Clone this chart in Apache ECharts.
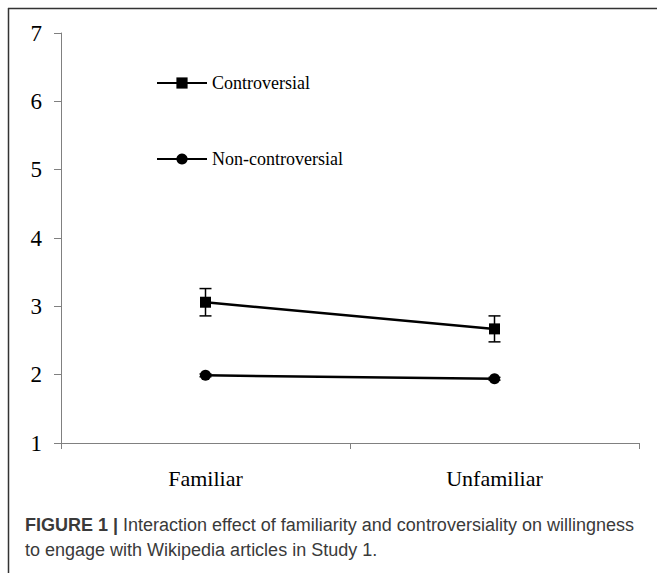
<!DOCTYPE html>
<html>
<head>
<meta charset="utf-8">
<script src="https://cdn.jsdelivr.net/npm/echarts@6/dist/echarts.min.js"></script>
<style>
html,body{margin:0;padding:0;background:#fff;}
#chart{width:657px;height:573px;}
</style>
</head>
<body>
<div id="chart"></div>
<script>
var categories = ['Familiar', 'Unfamiliar'];
var seriesNames = ['Controversial', 'Non-controversial'];
var controversial = [3.06, 2.67];
var controversialErr = [0.2, 0.19];
var nonControversial = [1.99, 1.94];
var nonControversialErr = [0.02, 0.02];
var yMin = 1, yMax = 7, yStep = 1;
var captionBold = 'FIGURE 1 |';
var captionLine1 = ' Interaction effect of familiarity and controversiality on willingness';
var captionLine2 = 'to engage with Wikipedia articles in Study 1.';

function errData(vals, errs) {
  return vals.map(function (v, i) { return [i, v - errs[i], v + errs[i]]; });
}

function renderErr(params, api) {
  var x = api.value(0);
  var lo = api.coord([x, api.value(1)]);
  var hi = api.coord([x, api.value(2)]);
  var w = 6;
  var st = { stroke: '#000', lineWidth: 1.5 };
  return {
    type: 'group',
    children: [
      { type: 'line', shape: { x1: lo[0], y1: lo[1], x2: hi[0], y2: hi[1] }, style: st },
      { type: 'line', shape: { x1: lo[0] - w, y1: lo[1], x2: lo[0] + w, y2: lo[1] }, style: st },
      { type: 'line', shape: { x1: hi[0] - w, y1: hi[1], x2: hi[0] + w, y2: hi[1] }, style: st }
    ]
  };
}

var serif = '"Liberation Serif", "Times New Roman", serif';
var sans = '"Liberation Sans", Arial, Helvetica, sans-serif';

var chart = echarts.init(document.getElementById('chart'), null, { renderer: 'svg' });
chart.setOption({
  animation: false,
  backgroundColor: '#fff',
  grid: { left: 61, right: 18, top: 33, bottom: 130, containLabel: false },
  legend: {
    orient: 'vertical',
    left: 156,
    top: 74,
    padding: 0,
    itemWidth: 50,
    itemHeight: 14,
    itemGap: 58,
    data: seriesNames,
    textStyle: { fontFamily: serif, fontSize: 18, color: '#000' }
  },
  xAxis: {
    type: 'category',
    data: categories,
    boundaryGap: true,
    axisLine: { lineStyle: { color: '#808080', width: 1 } },
    axisTick: { show: true, length: 6, lineStyle: { color: '#808080' } },
    axisLabel: { fontFamily: serif, fontSize: 22, color: '#000', margin: 24 },
    splitLine: { show: false }
  },
  yAxis: {
    type: 'value',
    min: yMin, max: yMax, interval: yStep,
    axisLine: { show: true, lineStyle: { color: '#808080', width: 1 } },
    axisTick: { show: true, length: 7, lineStyle: { color: '#808080' } },
    axisLabel: { fontFamily: serif, fontSize: 23, color: '#000', margin: 19 },
    splitLine: { show: false }
  },
  series: [
    {
      name: seriesNames[0], type: 'line', data: controversial,
      symbol: 'rect', symbolSize: 11, showSymbol: true,
      lineStyle: { color: '#000', width: 2.5 }, itemStyle: { color: '#000' }, z: 3
    },
    {
      name: seriesNames[1], type: 'line', data: nonControversial,
      symbol: 'circle', symbolSize: 11, showSymbol: true,
      lineStyle: { color: '#000', width: 2.5 }, itemStyle: { color: '#000' }, z: 3
    },
    { type: 'custom', renderItem: renderErr, data: errData(controversial, controversialErr), z: 2, silent: true },
    { type: 'custom', renderItem: renderErr, data: errData(nonControversial, nonControversialErr), z: 2, silent: true }
  ],
  graphic: [
    { type: 'line', shape: { x1: 8, y1: 8.5, x2: 657, y2: 8.5 }, style: { stroke: '#333', lineWidth: 1.5 } },
    { type: 'line', shape: { x1: 8.5, y1: 8, x2: 8.5, y2: 573 }, style: { stroke: '#333', lineWidth: 1.5 } },
    {
      type: 'text', left: 25, top: 516,
      style: {
        text: '{b|' + captionBold + '}' + captionLine1,
        font: '18px ' + sans, fill: '#3a3a3a',
        rich: { b: { fontWeight: 'bold', fontSize: 18, fontFamily: sans, fill: '#3a3a3a' } }
      }
    },
    {
      type: 'text', left: 25, top: 541,
      style: { text: captionLine2, font: '18px ' + sans, fill: '#3a3a3a' }
    }
  ]
});
</script>
</body>
</html>
